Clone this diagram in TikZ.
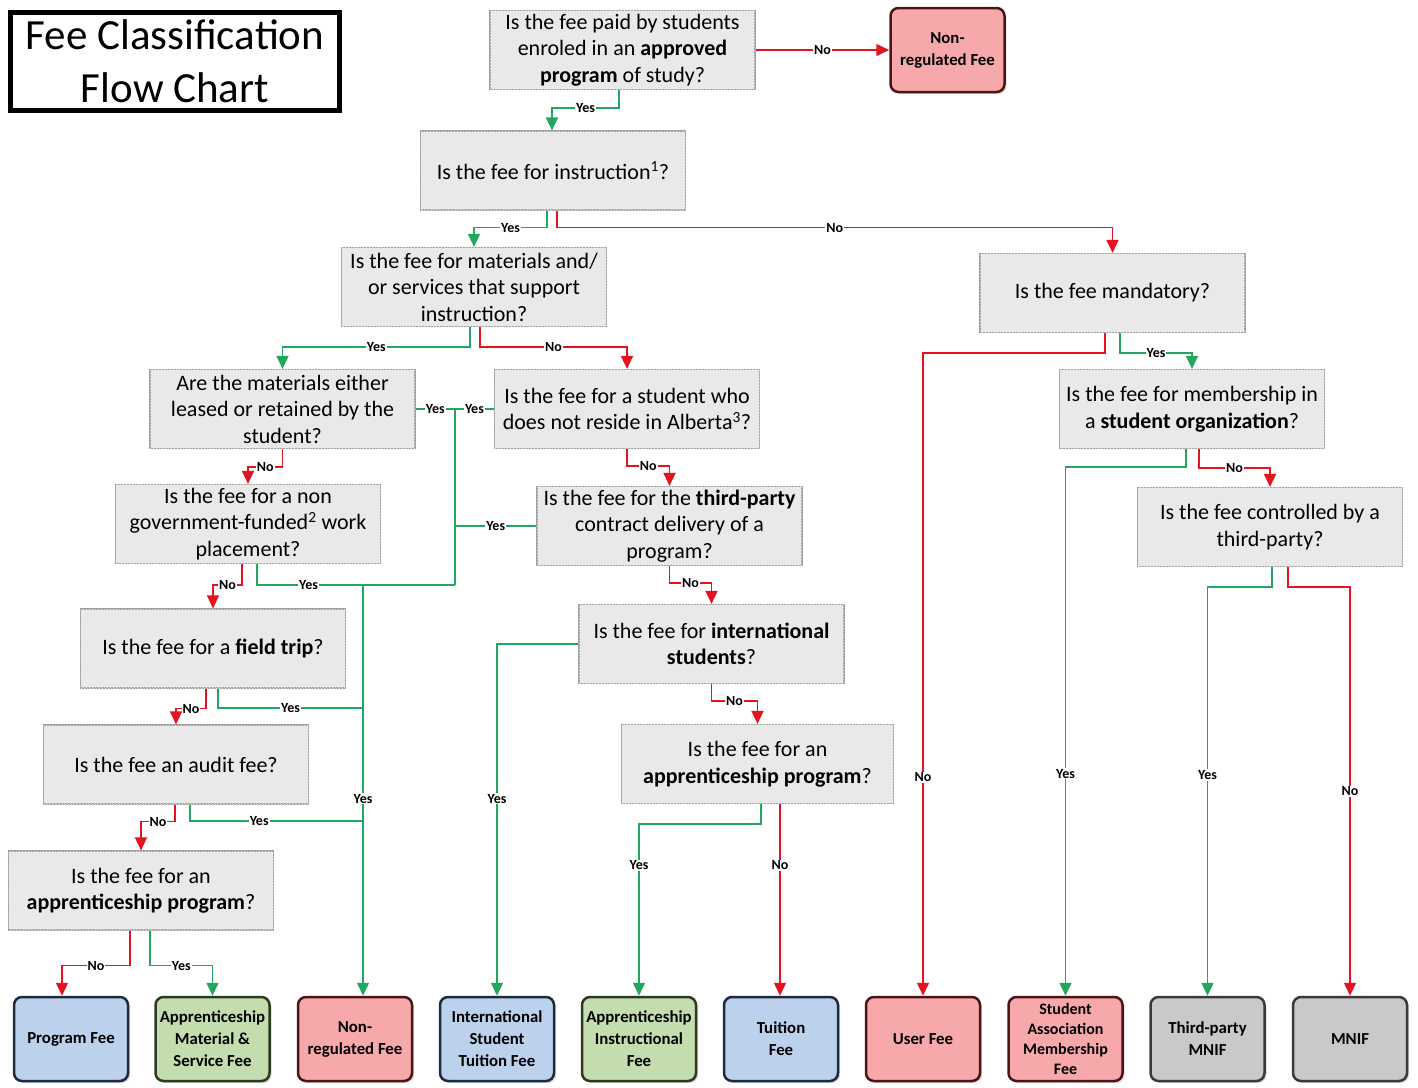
\documentclass[tikz,border=0pt]{standalone}
\usepackage{fontspec}
\setmainfont{Carlito}
\usetikzlibrary{arrows.meta,calc,shadows,patterns}
\definecolor{yesgreen}{HTML}{22A85E}
\definecolor{nored}{HTML}{E3141F}
\definecolor{qfill}{HTML}{EBEBEB}
\definecolor{qborder}{HTML}{A0A0A0}
\definecolor{feeblue}{HTML}{BCD2EC}
\definecolor{feegreen}{HTML}{C4DDAE}
\definecolor{feepink}{HTML}{F6A8AB}
\definecolor{feegray}{HTML}{C9C9C9}
\definecolor{edgeblue}{HTML}{1D2A3F}
\definecolor{edgegreen}{HTML}{2C3A1F}
\definecolor{edgered}{HTML}{4B1416}
\definecolor{edgegray}{HTML}{3A3A3A}

\begin{document}
\begin{tikzpicture}[x=1pt,y=-1pt,
    titlebox/.style={draw=black,line width=5pt,minimum width=329pt,minimum height=98pt,align=center,font=\fontsize{43}{53}\selectfont},
    question/.style={draw=qborder,line width=1.2pt,fill=qfill,postaction={pattern=north west lines,pattern color=black!9},minimum width=265pt,minimum height=79pt,align=center,inner sep=1pt,font=\fontsize{22}{26.5}\selectfont},
    fee/.style={rounded corners=8pt,line width=2.5pt,minimum width=114pt,minimum height=84pt,align=center,inner sep=1pt,font=\fontsize{16.8}{22}\selectfont\bfseries,drop shadow={opacity=0.3,shadow xshift=2pt,shadow yshift=-2pt}},
    bluefee/.style={fee,draw=edgeblue,fill=feeblue},
    greenfee/.style={fee,draw=edgegreen,fill=feegreen},
    pinkfee/.style={fee,draw=edgered,fill=feepink},
    grayfee/.style={fee,draw=edgegray,fill=feegray},
    yesline/.style={draw=yesgreen,line width=1.5pt},
    noline/.style={draw=nored,line width=1.5pt},
    yesarr/.style={yesline,-{Triangle[width=12pt,length=13pt]}},
    noarr/.style={noline,-{Triangle[width=12pt,length=13pt]}},
    lbl/.style={fill=white,inner sep=1pt,text=black,font=\fontsize{14}{14}\selectfont\bfseries}]
    \useasboundingbox (0,0) rectangle (1418,1087);
    \node[titlebox] (title) at (175,61.5) {Fee Classification\\Flow Chart};

    \node[question] (q1) at (622.5,50) {Is the fee paid by students\\enroled in an \textbf{approved}\\\textbf{program} of study?};
    \node[pinkfee] (nonreg1) at (947.5,50) {Non-\\regulated Fee};
    \node[question] (q2) at (553,170.5) {Is the fee for instruction\textsuperscript{1}?};
    \node[question] (q3) at (474,287) {Is the fee for materials and/\\or services that support\\instruction?};
    \node[question] (qm) at (282.5,409) {Are the materials either\\leased or retained by the\\student?};
    \node[question] (qs) at (627,409) {Is the fee for a student who\\does not reside in Alberta\textsuperscript{3}?};
    \node[question] (qw) at (248,524) {Is the fee for a non\\government-funded\textsuperscript{2} work\\placement?};
    \node[question] (qt) at (669.5,526) {Is the fee for the \textbf{third-party}\\contract delivery of a\\program?};
    \node[question] (qf) at (213,648.5) {Is the fee for a \textbf{field trip}?};
    \node[question] (qa) at (176,764.5) {Is the fee an audit fee?};
    \node[question] (qp) at (141,890.5) {Is the fee for an\\\textbf{apprenticeship program}?};
    \node[question] (qi) at (711.5,644) {Is the fee for \textbf{international}\\\textbf{students}?};
    \node[question,minimum width=272pt] (qap) at (757.5,764) {Is the fee for an\\\textbf{apprenticeship program}?};
    \node[question] (qmand) at (1112.5,293) {Is the fee mandatory?};
    \node[question] (qsa) at (1192,409) {Is the fee for membership in\\a \textbf{student organization}?};
    \node[question] (qc) at (1270,527) {Is the fee controlled by a\\third-party?};

    \node[bluefee] (progfee) at (71,1039) {Program Fee};
    \node[greenfee] (appmat) at (212.5,1039) {Apprenticeship\\Material \&\\Service Fee};
    \node[pinkfee] (nonreg2) at (355,1039) {Non-\\regulated Fee};
    \node[bluefee] (intl) at (497,1039) {International\\Student\\Tuition Fee};
    \node[greenfee] (appins) at (639,1039) {Apprenticeship\\Instructional\\Fee};
    \node[bluefee] (tuition) at (781,1039) {Tuition\\Fee};
    \node[pinkfee] (userfee) at (923,1039) {User Fee};
    \node[pinkfee,font=\fontsize{16}{20}\selectfont\bfseries] (samf) at (1065.5,1039) {Student\\Association\\Membership\\Fee};
    \node[grayfee] (tpmnif) at (1207.5,1039) {Third-party\\MNIF};
    \node[grayfee] (mnif) at (1350,1039) {MNIF};

    \coordinate (jA) at (455,409);
    \coordinate (jB) at (455,585);
    \coordinate (jC) at (363,585);
    \coordinate (jF) at (363,708);
    \coordinate (jAu) at (363,821);

    \draw[noarr] (q1.east) -- node[lbl]{No} (nonreg1.west);
    \draw[yesarr] (q1.south -| 619,0) -- ++(0,18) -| node[lbl,pos=0.25]{Yes} (q2.north -| 552,0);
    \draw[yesarr] (q2.south -| 547,0) -- ++(0,17) -| node[lbl,pos=0.25]{Yes} (q3.north);
    \draw[noarr] (q2.south -| 557,0) -- ++(0,17) -| node[lbl,pos=0.25]{No} (qmand.north);
    \draw[yesarr] (q3.south -| 470,0) -- ++(0,20) -| node[lbl,pos=0.25]{Yes} (qm.north);
    \draw[noarr] (q3.south -| 480,0) -- ++(0,20) -| node[lbl,pos=0.25]{No} (qs.north);
    \draw[noarr] (qm.south) -- ++(0,18) -| node[lbl,pos=0.25]{No} (qw.north);
    \draw[yesline] (qm.east) -- node[lbl]{Yes} (jA);
    \draw[yesline] (qs.west) -- node[lbl]{Yes} (jA);
    \draw[noarr] (qs.south) -- ++(0,17) -| node[lbl,pos=0.25]{No} (qt.north);
    \draw[yesline] (qt.west) -- node[lbl]{Yes} (qt.west -| jA);
    \draw[noarr] (qt.south) -- ++(0,17) -| node[lbl,pos=0.25]{No} (qi.north);
    \draw[yesline] (jA) -- (jB);
    \draw[yesline] (qw.south -| 257,0) |- node[lbl,pos=0.63]{Yes} (jB);
    \draw[noarr] (qw.south -| 242,0) -- ++(0,21) -| node[lbl,pos=0.25]{No} (qf.north);
    \draw[yesarr] (jC) -- node[lbl,pos=0.52]{Yes} (nonreg2.north -| jC);
    \draw[noarr] (qf.south -| 206,0) -- ++(0,20) -| node[lbl,pos=0.25]{No} (qa.north);
    \draw[yesline] (qf.south -| 218,0) |- node[lbl,pos=0.75]{Yes} (jF);
    \draw[noarr] (qa.south -| 175,0) -- ++(0,17) -| node[lbl,pos=0.25]{No} (qp.north);
    \draw[yesline] (qa.south -| 190,0) |- node[lbl,pos=0.7]{Yes} (jAu);
    \draw[noarr] (qp.south -| 130,0) -- ++(0,35) -| node[lbl,pos=0.25]{No} (progfee.north -| 62,0);
    \draw[yesarr] (qp.south -| 150,0) -- ++(0,35) -| node[lbl,pos=0.25]{Yes} (appmat.north);
    \draw[yesarr] (qi.west) -| node[lbl,pos=0.72]{Yes} (intl.north);
    \draw[noarr] (qi.south) -- ++(0,17) -| node[lbl,pos=0.25]{No} (qap.north);
    \draw[yesarr] (qap.south -| 761,0) -- ++(0,20) -| node[lbl,pos=0.62]{Yes} (appins.north);
    \draw[noarr] (qap.south -| 780,0) -- node[lbl,pos=0.32]{No} (tuition.north -| 780,0);
    \draw[noarr] (qmand.south -| 1105,0) -- ++(0,20) -| node[lbl,pos=0.83]{No} (userfee.north);
    \draw[yesarr] (qmand.south -| 1120,0) -- ++(0,20) -| node[lbl,pos=0.25]{Yes} (qsa.north);
    \draw[yesarr] (qsa.south -| 1186,0) -- ++(0,18) -| node[lbl,pos=0.79]{Yes} (samf.north);
    \draw[noarr] (qsa.south -| 1199,0) -- ++(0,19) -| node[lbl,pos=0.25]{No} (qc.north);
    \draw[yesarr] (qc.south -| 1272,0) -- ++(0,20) -| node[lbl,pos=0.73]{Yes} (tpmnif.north);
    \draw[noarr] (qc.south -| 1288,0) -- ++(0,20) -| node[lbl,pos=0.75]{No} (mnif.north);
\end{tikzpicture}
\end{document}
